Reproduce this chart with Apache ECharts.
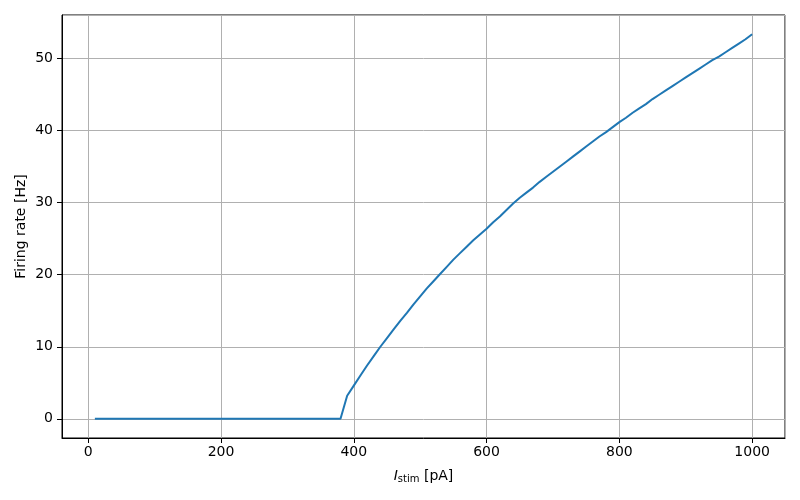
<!DOCTYPE html>
<html>
<head>
<meta charset="utf-8">
<script src="https://cdn.jsdelivr.net/npm/echarts@6/dist/echarts.min.js"></script>
<style>html,body{margin:0;padding:0;background:#fff}#c{width:800px;height:500px}</style>
</head>
<body>
<div id="c"></div>
<script>
const currents = [10,20,30,40,50,60,70,80,90,100,110,120,130,140,150,160,170,180,190,200,
  210,220,230,240,250,260,270,280,290,300,310,320,330,340,350,360,370,380,390,400,
  410,420,430,440,450,460,470,480,490,500,510,520,530,540,550,560,570,580,590,600,
  610,620,630,640,650,660,670,680,690,700,710,720,730,740,750,760,770,780,790,800,
  810,820,830,840,850,860,870,880,890,900,910,920,930,940,950,960,970,980,990,1000];
const rates = [0,0,0,0,0,0,0,0,0,0,0,0,0,0,0,0,0,0,0,0,
  0,0,0,0,0,0,0,0,0,0,0,0,0,0,0,0,0,0,3.2,4.6,
  6.0,7.4,8.7,10.0,11.2,12.4,13.6,14.7,15.9,17.0,18.1,19.1,20.1,21.1,22.1,23.0,23.9,24.8,25.6,26.4,
  27.3,28.1,29.0,29.9,30.7,31.4,32.1,32.9,33.6,34.3,35.0,35.7,36.4,37.1,37.8,38.5,39.2,39.8,40.5,41.2,
  41.8,42.5,43.1,43.7,44.4,45.0,45.6,46.2,46.8,47.4,48.0,48.6,49.2,49.8,50.3,50.9,51.5,52.1,52.7,53.4];

const xMin = -39.5, xMax = 1049.5, yMin = -2.67, yMax = 56.07;
const font = 'DejaVu Sans';
const chart = echarts.init(document.getElementById('c'), null, {renderer: 'canvas'});
const axisCommon = {
  axisLine: {show: true, onZero: false, lineStyle: {color: '#000', width: 1}},
  axisTick: {show: true, length: 5, lineStyle: {color: '#000', width: 1}},
  splitLine: {show: true, lineStyle: {color: '#b0b0b0', width: 1}},
  axisLabel: {color: '#000', fontFamily: font, fontSize: 14, showMinLabel: false, showMaxLabel: false,
    formatter: v => String(v)}
};
chart.setOption({
  animation: false,
  backgroundColor: '#fff',
  grid: {left: 62, right: 15, top: 15, bottom: 62, show: true, borderColor: '#000', borderWidth: 1, containLabel: false},
  xAxis: Object.assign({}, axisCommon, {
    type: 'value', min: xMin, max: xMax,
    axisLabel: Object.assign({}, axisCommon.axisLabel, {margin: 7}),
    name: '{i|I}{sub|stim} [pA]', nameLocation: 'middle', nameGap: 30,
    nameTextStyle: {color: '#000', fontFamily: font, fontSize: 14,
      rich: {i: {fontStyle: 'italic', fontFamily: font, fontSize: 14, color: '#000'},
             sub: {fontFamily: font, fontSize: 10, color: '#000', verticalAlign: 'bottom', padding: [6, 0, 0, 0]}}}
  }),
  yAxis: Object.assign({}, axisCommon, {
    type: 'value', min: yMin, max: yMax,
    axisLabel: Object.assign({}, axisCommon.axisLabel, {margin: 9}),
    name: 'Firing rate [Hz]', nameLocation: 'middle', nameGap: 34, nameMoveOverlap: false,
    nameTextStyle: {color: '#000', fontFamily: font, fontSize: 14}
  }),
  series: [{
    type: 'line',
    data: currents.map((c, i) => [c, rates[i]]),
    showSymbol: false,
    lineStyle: {color: '#1f77b4', width: 2},
    itemStyle: {color: '#1f77b4'}
  }]
});
</script>
</body>
</html>
